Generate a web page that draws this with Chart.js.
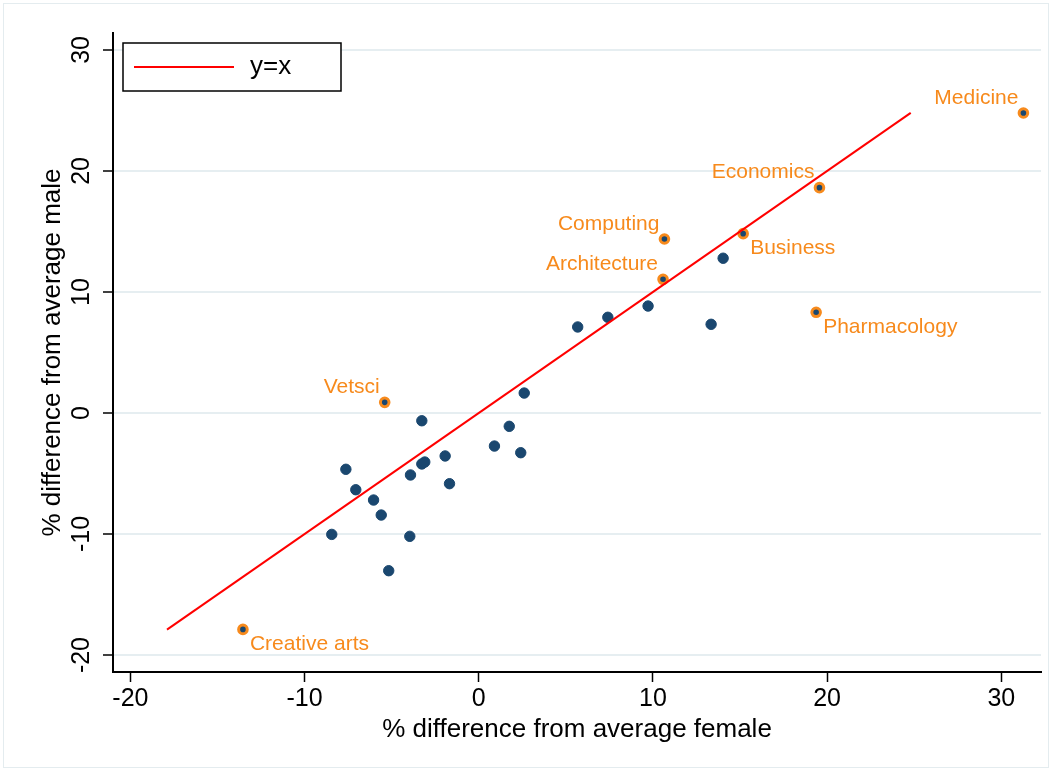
<!DOCTYPE html>
<html>
<head>
  <title>Subject earnings: female vs male difference</title>
  <script src="https://cdn.jsdelivr.net/npm/chart.js"></script>
  <style>
    body { margin: 0; background: #fff; }
  </style>
</head>
<body>
  <canvas id="myChart" width="1052" height="771"></canvas>

  <script>
    // subjects that get an orange marker and a name tag
    let namedSubjects = ['Medicine', 'Economics', 'Computing', 'Architecture', 'Business', 'Pharmacology', 'Vetsci', 'Creative arts'];
    let namedFemale = [31.27, 19.56, 10.66, 10.58, 15.18, 19.37, -5.40, -13.54];
    let namedMale = [24.79, 18.62, 14.38, 11.05, 14.82, 8.32, 0.88, -17.88];

    // all the other subjects
    let otherFemale = [14.03, 13.34, 9.72, 7.41, 5.68, 2.61, 1.75, 0.90, 2.41, -1.93, -3.27, -3.27, -3.10, -1.68, -3.92, -7.63, -7.06, -6.04, -5.60, -8.44, -3.96, -5.17];
    let otherMale = [12.79, 7.33, 8.84, 7.91, 7.11, 1.65, -1.10, -2.73, -3.28, -3.55, -0.64, -4.21, -4.05, -5.84, -5.12, -4.65, -6.34, -7.19, -8.43, -10.03, -10.19, -13.03];

    // y=x reference line, from lowest to highest male value
    let lineEnds = [-17.9, 24.8];

    let xTicks = [-20, -10, 0, 10, 20, 30];
    let yTicks = [-20, -10, 0, 10, 20, 30];

    let navy = 'rgb(26,71,111)';
    let orange = 'rgb(247,138,28)';
    let fontFamily = '"Liberation Sans", Arial, sans-serif';

    Chart.defaults.font.family = fontFamily;
    Chart.defaults.color = '#000';

    // where the name goes relative to the marker
    let tagSide = {
      'Medicine': 'nw', 'Economics': 'nw', 'Computing': 'nw', 'Architecture': 'nw',
      'Vetsci': 'nw', 'Business': 'se', 'Pharmacology': 'se', 'Creative arts': 'se'
    };

    let backgroundFrame = {
      id: 'backgroundFrame',
      beforeDraw(chart) {
        let c = chart.ctx;
        c.save();
        c.fillStyle = '#fff';
        c.fillRect(0, 0, chart.width, chart.height);
        c.strokeStyle = '#e4ecef';
        c.lineWidth = 1;
        c.strokeRect(3.5, 3.5, chart.width - 7, chart.height - 7);
        c.restore();
      }
    };

    let nameTags = {
      id: 'nameTags',
      afterDatasetsDraw(chart) {
        let c = chart.ctx;
        let meta = chart.getDatasetMeta(1);
        c.save();
        c.font = '21px ' + fontFamily;
        c.fillStyle = orange;
        c.textBaseline = 'middle';
        meta.data.forEach((pt, i) => {
          let name = namedSubjects[i];
          if (tagSide[name] === 'nw') {
            c.textAlign = 'right';
            c.fillText(name, pt.x - 5, pt.y - 15);
          } else {
            c.textAlign = 'left';
            c.fillText(name, pt.x + 7, pt.y + 15);
          }
        });
        c.restore();
      }
    };

    // boxed key in the top-left corner of the plot
    let cornerKey = {
      id: 'cornerKey',
      afterDraw(chart) {
        let c = chart.ctx;
        let ds = chart.data.datasets[0];
        let area = chart.chartArea;
        let left = area.left + 10, top = area.top + 10;
        c.save();
        c.fillStyle = '#fff';
        c.fillRect(left, top, 218, 48);
        c.strokeStyle = '#000';
        c.lineWidth = 1.5;
        c.strokeRect(left, top, 218, 48);
        c.strokeStyle = ds.borderColor;
        c.lineWidth = ds.borderWidth;
        c.beginPath();
        c.moveTo(left + 11, top + 24);
        c.lineTo(left + 111, top + 24);
        c.stroke();
        c.fillStyle = '#000';
        c.font = '26px ' + fontFamily;
        c.textAlign = 'left';
        c.textBaseline = 'middle';
        c.fillText(ds.label, left + 127, top + 24);
        c.restore();
      }
    };

    let ctx = document.getElementById('myChart').getContext('2d');

    let myChart = new Chart(ctx, {
      type: 'scatter',
      data: {
        datasets: [
          {
            type: 'line',
            label: 'y=x',
            data: lineEnds.map(v => ({ x: v, y: v })),
            borderColor: 'rgb(255,0,0)',
            borderWidth: 2,
            pointRadius: 0,
            fill: false,
            order: 1
          },
          {
            label: 'named',
            data: namedFemale.map((v, i) => ({ x: v, y: namedMale[i] })),
            backgroundColor: navy,
            borderColor: orange,
            borderWidth: 3,
            pointRadius: 4.3,
            order: 2
          },
          {
            label: 'other',
            data: otherFemale.map((v, i) => ({ x: v, y: otherMale[i] })),
            backgroundColor: navy,
            borderColor: navy,
            borderWidth: 1,
            pointRadius: 5.2,
            order: 3
          }
        ]
      },
      options: {
        responsive: false,
        animation: false,
        layout: { padding: { left: 0, top: 33, right: 11, bottom: 0 } },
        plugins: {
          legend: { display: false },
          tooltip: { enabled: false }
        },
        scales: {
          x: {
            type: 'linear',
            position: 'bottom',
            min: -21,
            max: 32.28,
            afterBuildTicks: s => { s.ticks = xTicks.map(v => ({ value: v })); },
            afterFit: s => { s.height = 99; },
            border: { color: '#000', width: 2 },
            grid: { drawOnChartArea: false, tickLength: 10, tickColor: '#000', tickWidth: 1.5 },
            ticks: { font: { size: 25 }, padding: 2, maxRotation: 0 },
            title: {
              display: true,
              text: '% difference from average female',
              font: { size: 26 },
              padding: { top: 0, bottom: 26 }
            }
          },
          y: {
            type: 'linear',
            position: 'left',
            min: -21.4,
            max: 31.4,
            afterBuildTicks: s => { s.ticks = yTicks.map(v => ({ value: v })); },
            afterFit: s => { s.width = 113; s.paddingTop = 0; s.paddingBottom = 0; },
            border: { color: '#000', width: 2 },
            grid: { color: '#e6eef1', lineWidth: 2, tickLength: 10, tickColor: '#000', tickWidth: 1.5 },
            ticks: { font: { size: 25 }, padding: 3, minRotation: 90, maxRotation: 90, crossAlign: 'center' },
            title: {
              display: true,
              text: '% difference from average male',
              font: { size: 26 },
              padding: { top: 37, bottom: 0 }
            }
          }
        }
      },
      plugins: [backgroundFrame, nameTags, cornerKey]
    });
  </script>
</body>
</html>
